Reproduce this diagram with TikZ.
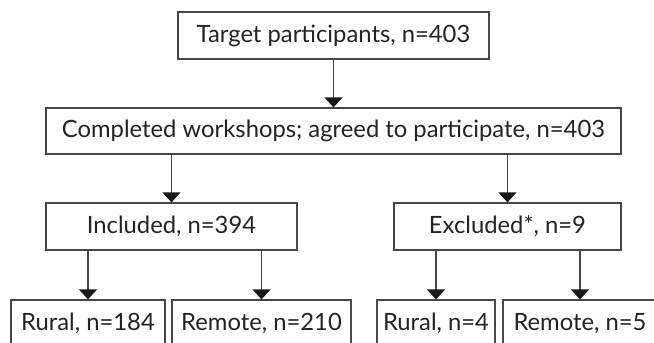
\documentclass[tikz,border=0pt]{standalone}
\usepackage{fontspec}
\setmainfont{Lato}
\usepackage{tikz}
\usetikzlibrary{arrows.meta}
\usepackage{xcolor}
\definecolor{ColLine}{RGB}{70,70,70}
\definecolor{ColTip}{RGB}{25,25,25}
\definecolor{ColText}{RGB}{35,35,35}
\tikzstyle{NodeBox}=[draw=ColLine,line width=1.2pt,inner sep=0pt,minimum height=47pt,
text=ColText,font=\fontsize{23.8}{28}\selectfont]
\tikzstyle{EdgeFlow}=[ColLine,line width=1.5pt,-{Triangle[width=18pt,length=10pt,color=ColTip]}]

\begin{document}
\begin{tikzpicture}[x=1pt,y=-1pt]
        \useasboundingbox(0,0)rectangle(654,343);
        \clip(0,0)rectangle(654,343);
        \node[NodeBox,minimum width=311pt](Target)at(333.5,35.5){Target participants, n=403};
        \node[NodeBox,minimum width=575pt,minimum height=46pt](Comp)at(333.5,131){Completed workshops; agreed to participate, n=403};
        \node[NodeBox,minimum width=251pt](Incl)at(171.5,226.5){Included, n=394};
        \node[NodeBox,minimum width=227pt](Excl)at(507.5,226.5){Excluded*, n=9};
        \node[NodeBox,minimum width=154pt](RuralA)at(88,323.5){Rural, n=184};
        \node[NodeBox,minimum width=179pt](RemoteA)at(261.5,323.5){Remote, n=210};
        \node[NodeBox,minimum width=118pt](RuralB)at(436,323.5){Rural, n=4};
        \node[NodeBox,minimum width=154pt](RemoteB)at(580,323.5){Remote, n=5};
        \draw[EdgeFlow](Comp|-Target.south)--(Comp);
        \draw[EdgeFlow](Incl|-Comp.south)--(Incl);
        \draw[EdgeFlow](Excl|-Comp.south)--(Excl);
        \draw[EdgeFlow](RuralA|-Incl.south)--(RuralA);
        \draw[EdgeFlow](RemoteA|-Incl.south)--(RemoteA);
        \draw[EdgeFlow](RuralB|-Excl.south)--(RuralB);
        \draw[EdgeFlow](RemoteB|-Excl.south)--(RemoteB);
    \end{tikzpicture}
\end{document}
